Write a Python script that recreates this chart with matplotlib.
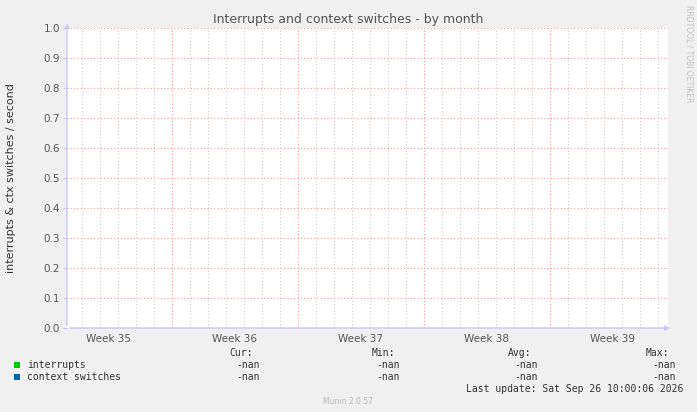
#munin style graph: interrupts and context switches, month view (no data -> -nan)
import numpy as np
import matplotlib
matplotlib.use('Agg')
import matplotlib.pyplot as plt

title_text = 'Interrupts and context switches - by month'
ylabel_text = 'interrupts & ctx switches / second'
week_labels = ['Week 35', 'Week 36', 'Week 37', 'Week 38', 'Week 39']
week_bounds = [0, 7, 14, 21]           # days, week boundaries
x_range = (-5.83, 27.56)                # days shown
y_ticks = [0.0, 0.1, 0.2, 0.3, 0.4, 0.5, 0.6, 0.7, 0.8, 0.9, 1.0]
series_names = ['interrupts', 'context switches']
series_colors = ['#00CC00', '#0066B3']
series_days = [-5.0, 0.0, 7.0, 14.0, 21.0, 27.0]
interrupts = [np.nan, np.nan, np.nan, np.nan, np.nan, np.nan]
ctx_switches = [np.nan, np.nan, np.nan, np.nan, np.nan, np.nan]
stat_heads = ['Cur:', 'Min:', 'Avg:', 'Max:']
stat_vals = [['-nan', '-nan', '-nan', '-nan'],
             ['-nan', '-nan', '-nan', '-nan']]
last_update = 'Last update: Sat Sep 26 10:00:06 2026'
version = 'Munin 2.0.57'

W, H = 697, 412
fig = plt.figure(figsize=(W / 100, H / 100), dpi=100, facecolor='#F0F0F0')

def fx(px):
    return px / W

def fy(py):
    return 1 - py / H

L, R, T, B = 67, 668, 28, 328
ax = fig.add_axes([fx(L), fy(B), (R - L) / W, (B - T) / H])
ax.set_facecolor('white')
ax.set_xlim(*x_range)
ax.set_ylim(0, 1)

for name, vals, c in zip(series_names, [interrupts, ctx_switches], series_colors):
    ax.plot(series_days, vals, color=c, lw=1)

# minor grid: every day
for d in range(-5, 28):
    if d in week_bounds:
        continue
    ax.axvline(d, color='#CCCCCC', lw=0.8, ls=(0, (1, 2)), zorder=1)
for d in week_bounds:
    ax.axvline(d, color='#FF7F7F', lw=0.8, ls=(0, (1, 2)), alpha=0.8, zorder=2)
for v in y_ticks[1:]:
    ax.axhline(v, color='#E89898', lw=0.8, ls=(0, (1, 2)), alpha=0.9, zorder=2)

for s in ax.spines.values():
    s.set_visible(False)
ax.set_yticks(y_ticks)
ax.set_yticklabels(['%.1f' % v for v in y_ticks], fontsize=7.5, color='#555555')
ax.tick_params(axis='y', length=3, color='#C8C8F0', pad=2)
ax.set_xticks([b - 3.5 for b in week_bounds] + [24.5])
ax.set_xticklabels(week_labels, fontsize=7.5, color='#555555')
ax.tick_params(axis='x', length=0, pad=4)

# axis lines with arrows
ax.annotate('', xy=(1.008, 0), xytext=(0, 0), xycoords='axes fraction',
            arrowprops=dict(arrowstyle='-|>', color='#C8C8F0', lw=1, mutation_scale=7),
            annotation_clip=False)
ax.annotate('', xy=(0, 1.025), xytext=(0, 0), xycoords='axes fraction',
            arrowprops=dict(arrowstyle='-|>', color='#C8C8F0', lw=1, mutation_scale=7),
            annotation_clip=False)

fig.text(fx(348), fy(19), title_text, ha='center', va='center', fontsize=9, color='#555555')
fig.text(fx(11), fy(178), ylabel_text, rotation=90, ha='center', va='center',
         fontsize=8, color='#333333')
fig.text(fx(689), fy(5), 'RRDTOOL / TOBI OETIKER', rotation=270, ha='center', va='top',
         fontsize=5.5, color='#C4C4C4')

mono = 'DejaVu Sans Mono'
head_x = [253, 395, 531, 669]
val_x = [260, 400, 538, 676]
for h, x in zip(stat_heads, head_x):
    fig.text(fx(x), fy(352.5), h, ha='right', va='center', fontsize=7, family=mono, color='#333333')
for i, (name, c) in enumerate(zip(series_names, series_colors)):
    yy = 364.5 + i * 12.7
    fig.patches.append(plt.Rectangle((fx(14), fy(yy + 3)), 6 / W, 6 / H, transform=fig.transFigure,
                                     facecolor=c, edgecolor='none'))
    fig.text(fx(27), fy(yy), name, ha='left', va='center', fontsize=7, family=mono, color='#333333')
    for v, x in zip(stat_vals[i], val_x):
        fig.text(fx(x), fy(yy), v, ha='right', va='center', fontsize=7, family=mono, color='#333333')
fig.text(fx(683), fy(389), last_update, ha='right', va='center', fontsize=7, family=mono, color='#333333')
fig.text(fx(348), fy(401), version, ha='center', va='center', fontsize=5.5, color='#BBBBBB')

fig.savefig('out.png', dpi=100, facecolor=fig.get_facecolor())
